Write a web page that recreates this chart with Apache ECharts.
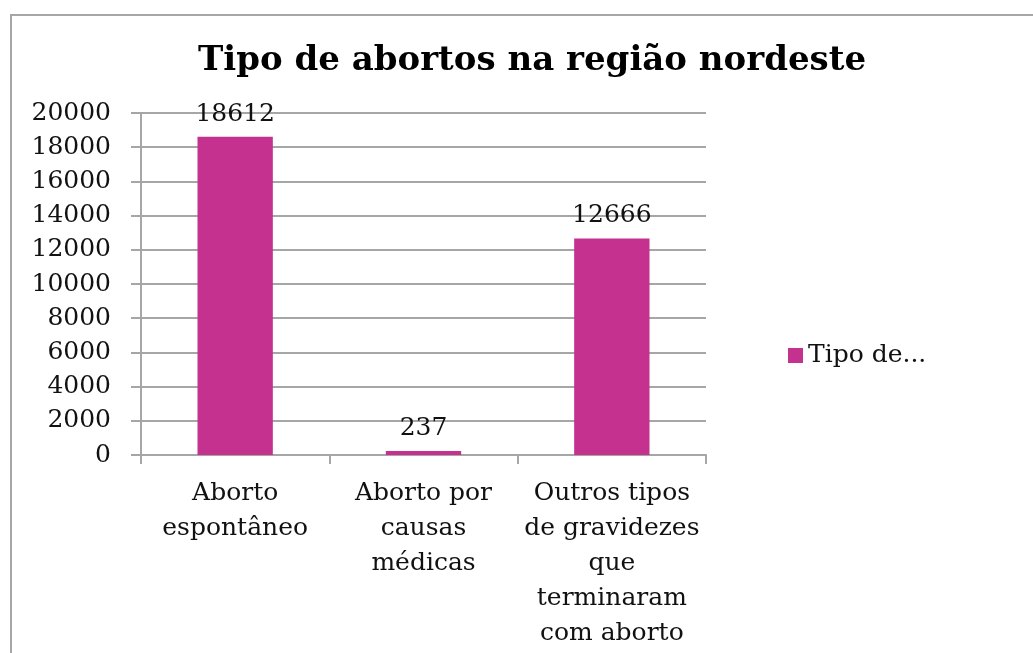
<!DOCTYPE html>
<html>
<head>
<meta charset="utf-8">
<script src="https://cdn.jsdelivr.net/npm/echarts@6/dist/echarts.min.js"></script>
<style>
  html, body { margin: 0; padding: 0; background: #fff; }
  #frame {
    position: absolute; left: 10px; top: 14px;
    width: 1040px; height: 660px;
    border: 2px solid #a6a6a6; box-sizing: border-box;
  }
  #chart { position: absolute; left: 0; top: 0; width: 1033px; height: 653px; }
</style>
</head>
<body>
<div id="frame"></div>
<div id="chart"></div>
<script>
const categories = [
  "Aborto\nespontâneo",
  "Aborto por\ncausas\nmédicas",
  "Outros tipos\nde gravidezes\nque\nterminaram\ncom aborto",
];
const values = [18612, 237, 12666];
const seriesName = "Tipo de abortos na região nordeste";
const legendLabel = "Tipo de...";

const font = "DejaVu Serif";
const gridColor = "#a6a6a6";

const myChart = echarts.init(document.getElementById("chart"));
const option = {
  animation: false,
  title: {
    text: "Tipo de abortos na região nordeste",
    left: 527,
    textAlign: "center",
    top: 39,
    textStyle: {
      fontFamily: font,
      fontWeight: "bold",
      fontSize: 34,
      color: "#000",
    },
  },
  legend: {
    left: 783,
    top: 338,
    itemWidth: 15,
    itemHeight: 15,
    itemGap: 6,
    icon: "rect",
    formatter: () => legendLabel,
    textStyle: { fontFamily: font, fontSize: 25, color: "#111" },
  },
  grid: { left: 141, right: 327, top: 113, bottom: 198 },
  xAxis: {
    type: "category",
    data: categories,
    axisLine: { lineStyle: { color: gridColor, width: 2 } },
    axisTick: { show: true, length: 9, lineStyle: { color: gridColor, width: 2 } },
    axisLabel: {
      interval: 0,
      margin: 21,
      fontFamily: font,
      fontSize: 25,
      lineHeight: 35,
      color: "#111",
    },
  },
  yAxis: {
    type: "value",
    min: 0,
    max: 20000,
    interval: 2000,
    axisLine: { show: true, lineStyle: { color: gridColor, width: 2 } },
    axisTick: { show: true, inside: false, length: 10, lineStyle: { color: gridColor, width: 2 } },
    splitLine: { lineStyle: { color: gridColor, width: 2 } },
    axisLabel: {
      margin: 30,
      fontFamily: font,
      fontSize: 25,
      color: "#111",
      formatter: (v) => String(v),
    },
  },
  series: [
    {
      name: seriesName,
      type: "bar",
      data: values,
      barWidth: "40%",
      itemStyle: { color: "#c4318f" },
      label: {
        show: true,
        position: "top",
        distance: 10,
        fontFamily: font,
        fontSize: 25,
        color: "#111",
      },
    },
  ],
};
myChart.setOption(option);
</script>
</body>
</html>
